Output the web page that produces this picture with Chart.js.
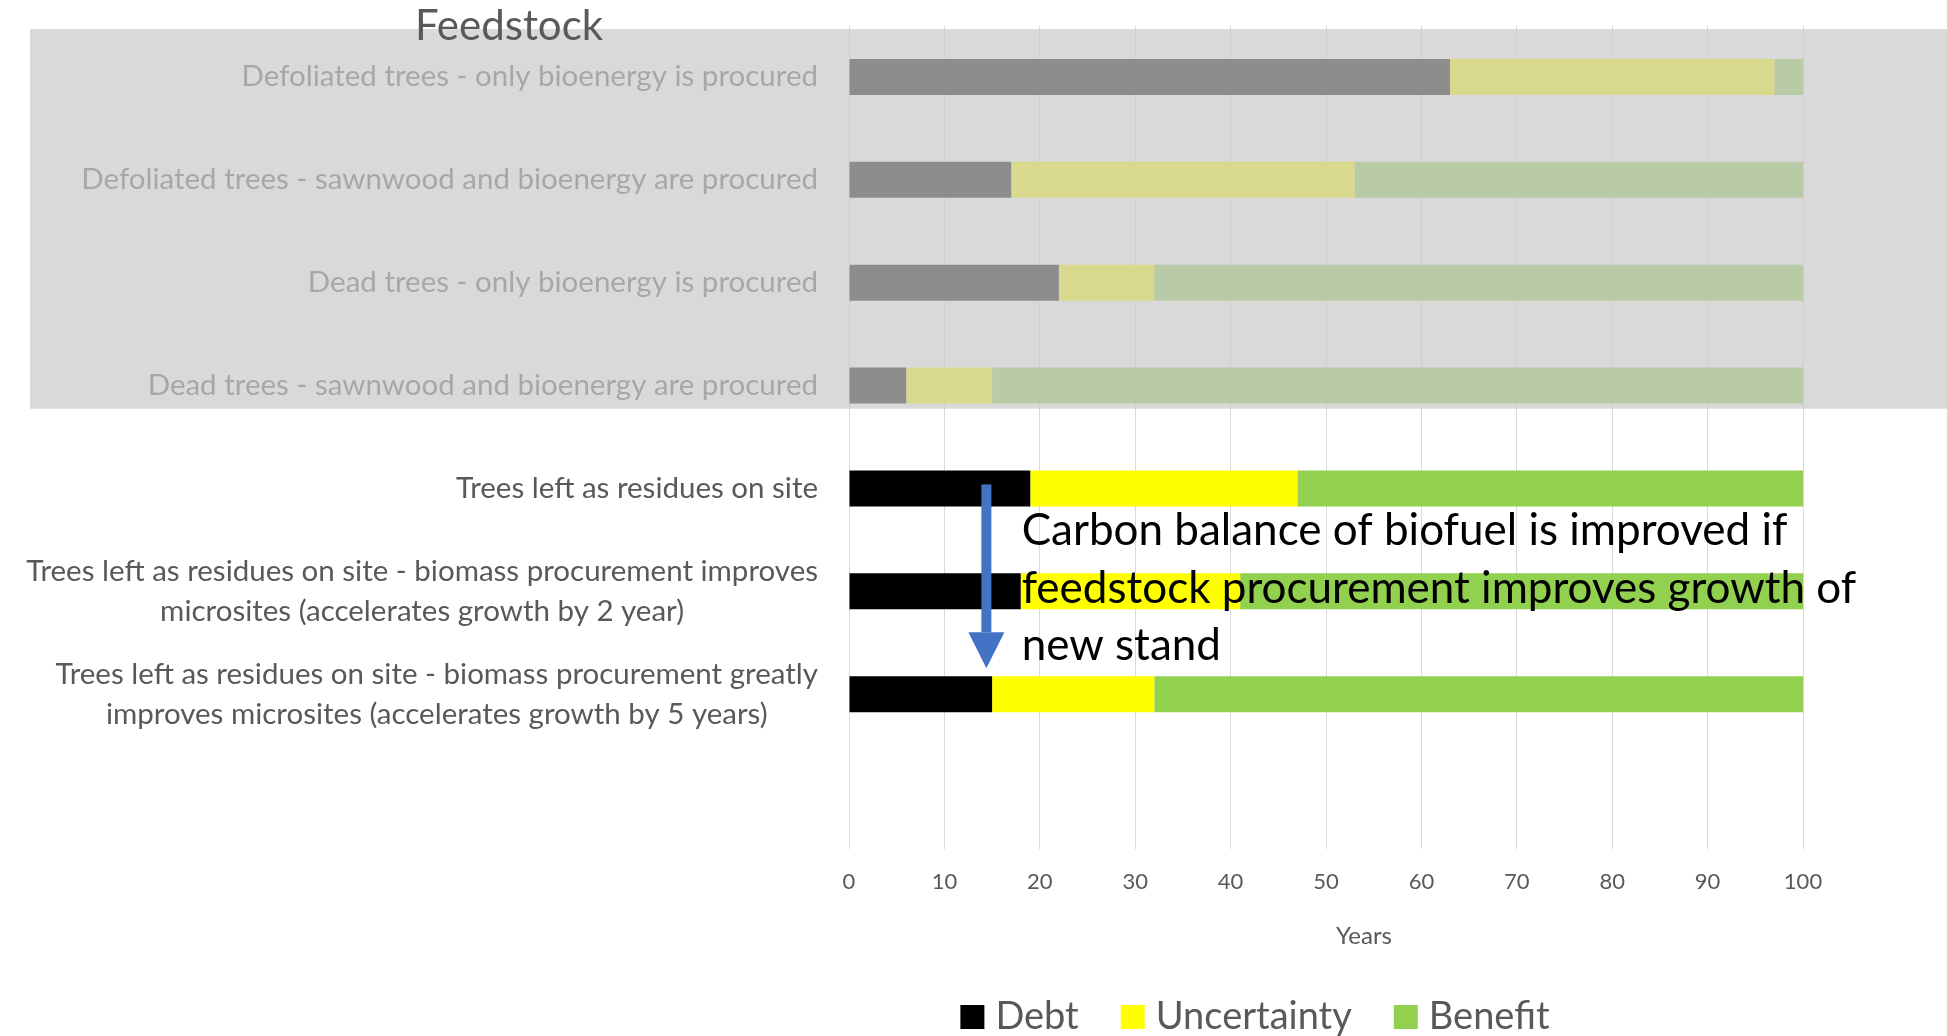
<!DOCTYPE html>
<html>
<head>
<meta charset="utf-8">
<script src="https://cdn.jsdelivr.net/npm/chart.js@4"></script>
<style>
    html, body { margin: 0; padding: 0; background: #ffffff; }
    #wrap { width: 1947px; height: 1036px; position: relative; }
</style>
</head>
<body>
<div id="wrap"><canvas id="chart"></canvas></div>
<script>
// --- Data ---
const categories = [
    'Defoliated trees - only bioenergy is procured',
    'Defoliated trees - sawnwood and bioenergy are procured',
    'Dead trees - only bioenergy is procured',
    'Dead trees - sawnwood and bioenergy are procured',
    'Trees left as residues on site',
    ['Trees left as residues on site - biomass procurement improves', 'microsites (accelerates growth by 2 year)'],
    ['Trees left as residues on site - biomass procurement greatly', 'improves microsites (accelerates growth by 5 years)'],
    ''
];
const debt = [63, 17, 22, 6, 19, 18, 15, null];
const uncertainty = [34, 36, 10, 9, 28, 23, 17, null];
const benefit = [3, 47, 68, 85, 53, 59, 68, null];
const seriesNames = ['Debt', 'Uncertainty', 'Benefit'];
const seriesColors = ['#000000', '#ffff00', '#92d050'];
const xTickValues = [0, 10, 20, 30, 40, 50, 60, 70, 80, 90, 100];
const xTitle = 'Years';
const groupTitle = 'Feedstock';
const fadedRows = 4; // first rows sit under the grey "Feedstock" panel
const noteLines = [
    'Carbon balance of biofuel is improved if',
    'feedstock procurement improves growth of',
    'new stand'
];

const FONT = 'Lato';
const TEXT = '#595959';

// Extra drawing: category labels, grey panel, note with arrow, axis title, legend
const decorPlugin = {
    id: 'decor',
    afterDraw(chart) {
        const ctx = chart.ctx;
        const xs = chart.scales.x;
        const ys = chart.scales.y;
        const band = ys.getPixelForValue(1) - ys.getPixelForValue(0);
        ctx.save();

        // category labels: single lines right aligned, wrapped ones centred as a block
        ctx.font = `29.5px ${FONT}`;
        ctx.fillStyle = TEXT;
        ctx.textAlign = 'center';
        ctx.textBaseline = 'middle';
        const right = xs.left - 31;
        categories.forEach((lab, i) => {
            const lines = Array.isArray(lab) ? lab : [lab];
            const w = Math.max(...lines.map(l => ctx.measureText(l).width));
            const cy = ys.getPixelForValue(i);
            lines.forEach((l, k) => {
                ctx.fillText(l, right - w / 2, cy + (k - (lines.length - 1) / 2) * 40);
            });
        });

        // grey translucent panel over the feedstock rows
        const top = ys.getPixelForValue(0) - 0.465 * band;
        const bottom = ys.getPixelForValue(fadedRows - 1) + 0.225 * band;
        ctx.fillStyle = 'rgba(201, 201, 203, 0.7)';
        ctx.fillRect(30, top, chart.width - 30, bottom - top);

        ctx.font = `42px ${FONT}`;
        ctx.fillStyle = TEXT;
        ctx.textBaseline = 'alphabetic';
        ctx.fillText(groupTitle, 509, 40);

        // blue arrow
        const ax = xs.getPixelForValue(14.4);
        const aTop = ys.getPixelForValue(4) - 4;
        const headBase = ys.getPixelForValue(6) - 62;
        const tip = ys.getPixelForValue(6) - 26;
        ctx.fillStyle = '#4472c4';
        ctx.fillRect(ax - 5, aTop, 10, headBase - aTop);
        ctx.beginPath();
        ctx.moveTo(ax - 18, headBase);
        ctx.lineTo(ax + 18, headBase);
        ctx.lineTo(ax, tip);
        ctx.closePath();
        ctx.fill();

        // note text
        ctx.font = `44px ${FONT}`;
        ctx.fillStyle = '#000000';
        ctx.textAlign = 'left';
        const nx = xs.getPixelForValue(18.1);
        const ny = ys.getPixelForValue(4) + 57;
        noteLines.forEach((l, k) => ctx.fillText(l, nx, ny + k * 57.5));

        // axis title
        ctx.font = `24px ${FONT}`;
        ctx.fillStyle = TEXT;
        ctx.textAlign = 'center';
        ctx.fillText(xTitle, 1364, 944);

        // legend
        ctx.font = `38px ${FONT}`;
        ctx.textAlign = 'left';
        const box = 24, boxGap = 11, itemGap = 42;
        const widths = seriesNames.map(n => ctx.measureText(n).width);
        const total = widths.reduce((a, w) => a + box + boxGap + w, 0) + itemGap * (seriesNames.length - 1);
        let lx = 1255 - total / 2;
        const base = 1029;
        seriesNames.forEach((n, i) => {
            ctx.fillStyle = seriesColors[i];
            ctx.fillRect(lx, base - box, box, box);
            ctx.fillStyle = TEXT;
            ctx.fillText(n, lx + box + boxGap, base);
            lx += box + boxGap + widths[i] + itemGap;
        });

        ctx.restore();
    }
};

const seriesData = [debt, uncertainty, benefit];

new Chart(document.getElementById('chart'), {
    type: 'bar',
    data: {
        labels: categories,
        datasets: seriesNames.map((name, i) => ({
            label: name,
            data: seriesData[i],
            backgroundColor: seriesColors[i],
            borderWidth: 0,
            barPercentage: 0.35,
            categoryPercentage: 1
        }))
    },
    options: {
        indexAxis: 'y',
        responsive: true,
        maintainAspectRatio: false,
        animation: false,
        layout: { padding: { top: 25.5, right: 144, bottom: 0, left: 0 } },
        plugins: {
            legend: { display: false },
            tooltip: { enabled: false }
        },
        scales: {
            x: {
                stacked: true,
                min: 0,
                max: 100,
                afterBuildTicks: scale => { scale.ticks = xTickValues.map(v => ({ value: v })); },
                afterFit: scale => { scale.height = 187.5; },
                grid: { color: '#d9d9d9', lineWidth: 1, drawTicks: false },
                border: { display: false },
                ticks: { color: TEXT, font: { family: FONT, size: 22 }, padding: 20 }
            },
            y: {
                stacked: true,
                afterFit: scale => { scale.width = 849; },
                grid: { display: false },
                border: { display: false },
                ticks: { display: false }
            }
        }
    },
    plugins: [decorPlugin]
});
</script>
</body>
</html>
